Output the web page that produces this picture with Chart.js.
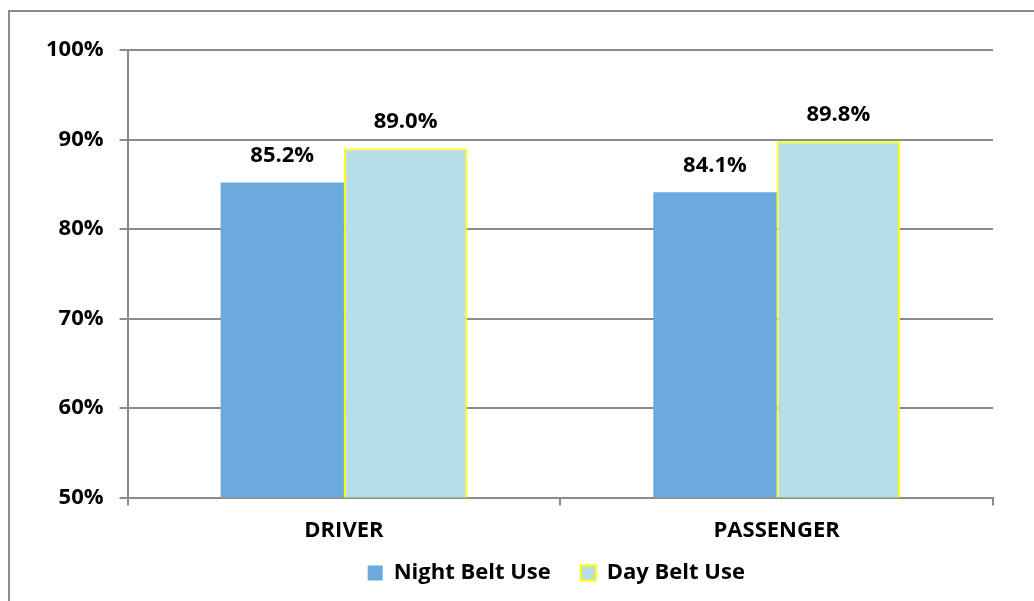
<!DOCTYPE html>
<html>
<head>
<meta charset="utf-8">
<script src="https://cdn.jsdelivr.net/npm/chart.js@4/dist/chart.umd.min.js"></script>
<style>
    html, body { margin: 0; padding: 0; background: #fff; overflow: hidden; }
    #frame {
        position: absolute; left: 8px; top: 10px; width: 1100px; height: 700px;
        border-left: 2px solid #8c8c8c; border-top: 2px solid #8c8c8c;
    }
    #wrap { position: absolute; left: 0; top: 0; width: 1034px; height: 601px; }
</style>
</head>
<body>
<div id="frame"></div>
<div id="wrap"><canvas id="belt_chart"></canvas></div>
<script>
const categories = ['DRIVER', 'PASSENGER'];
const nightBeltUse = [85.2, 84.1];
const dayBeltUse = [89.0, 89.8];
const yTicks = [50, 60, 70, 80, 90, 100];

const COLORS = {
    NIGHT: '#6CA9DD',
    DAY: '#B7DDE8',
    YELLOW: '#FFFF00',
    GRID: '#8c8c8c',
    TEXT: '#000000'
};
const FONT = { family: '"Open Sans"', size: 22, weight: 'bold' };

// draws the value above every bar
const valueLabels = {
    id: 'valueLabels',
    afterDatasetsDraw(chart) {
        const ctx = chart.ctx;
        ctx.save();
        ctx.font = `bold ${FONT.size}px ${FONT.family}`;
        ctx.fillStyle = COLORS.TEXT;
        ctx.textAlign = 'center';
        ctx.textBaseline = 'alphabetic';
        chart.data.datasets.forEach((ds, i) => {
            chart.getDatasetMeta(i).data.forEach((bar, j) => {
                ctx.fillText(ds.data[j].toFixed(1) + '%', bar.x, bar.y - 20);
            });
        });
        ctx.restore();
    }
};

// legend takes less room than chart.js gives it, and sits under the plot area centre
const tightLegend = {
    id: 'tightLegend',
    beforeInit(chart) {
        const origFit = chart.legend.fit;
        chart.legend.fit = function () {
            origFit.call(this);
            this.height -= 25;
        };
    },
    afterLayout(chart) {
        const legend = chart.legend;
        legend.top -= 24;
        const shift = (chart.chartArea.left + chart.chartArea.right) / 2 - (legend.left + legend.right) / 2 - 4;
        legend.left += shift;
        legend.right += shift;
    }
};

const config = {
    type: 'bar',
    data: {
        labels: categories,
        datasets: [
            {
                label: 'Night Belt Use',
                data: nightBeltUse,
                backgroundColor: COLORS.NIGHT,
                borderWidth: 0,
            },
            {
                label: 'Day Belt Use',
                data: dayBeltUse,
                backgroundColor: COLORS.DAY,
                borderColor: COLORS.YELLOW,
                borderWidth: 2,
            },
        ],
    },
    options: {
        responsive: true,
        maintainAspectRatio: false,
        animation: false,
        layout: { padding: { top: 50, right: 41, left: 30, bottom: 8 } },
        datasets: {
            bar: { categoryPercentage: 0.57, barPercentage: 1.0 }
        },
        plugins: {
            legend: {
                display: true,
                position: 'bottom',
                labels: {
                    color: COLORS.TEXT,
                    font: FONT,
                    boxWidth: 15,
                    boxHeight: 15,
                    padding: 30,
                    useBorderRadius: false,
                },
            },
            tooltip: { enabled: false },
        },
        scales: {
            y: {
                min: 50,
                max: 100,
                afterBuildTicks: (axis) => { axis.ticks = yTicks.map(v => ({ value: v })); },
                ticks: {
                    color: COLORS.TEXT,
                    font: FONT,
                    padding: 16,
                    callback: (value) => value + '%',
                },
                grid: { color: COLORS.GRID, lineWidth: 2, tickLength: 8 },
                border: { color: COLORS.GRID, width: 2 },
            },
            x: {
                ticks: { color: COLORS.TEXT, font: FONT, padding: 12 },
                grid: { color: COLORS.GRID, lineWidth: 2, tickLength: 8, drawOnChartArea: false, offset: true },
                border: { color: COLORS.GRID, width: 2 },
            },
        },
    },
    plugins: [valueLabels, tightLegend],
};

new Chart(document.getElementById('belt_chart'), config);
</script>
</body>
</html>
